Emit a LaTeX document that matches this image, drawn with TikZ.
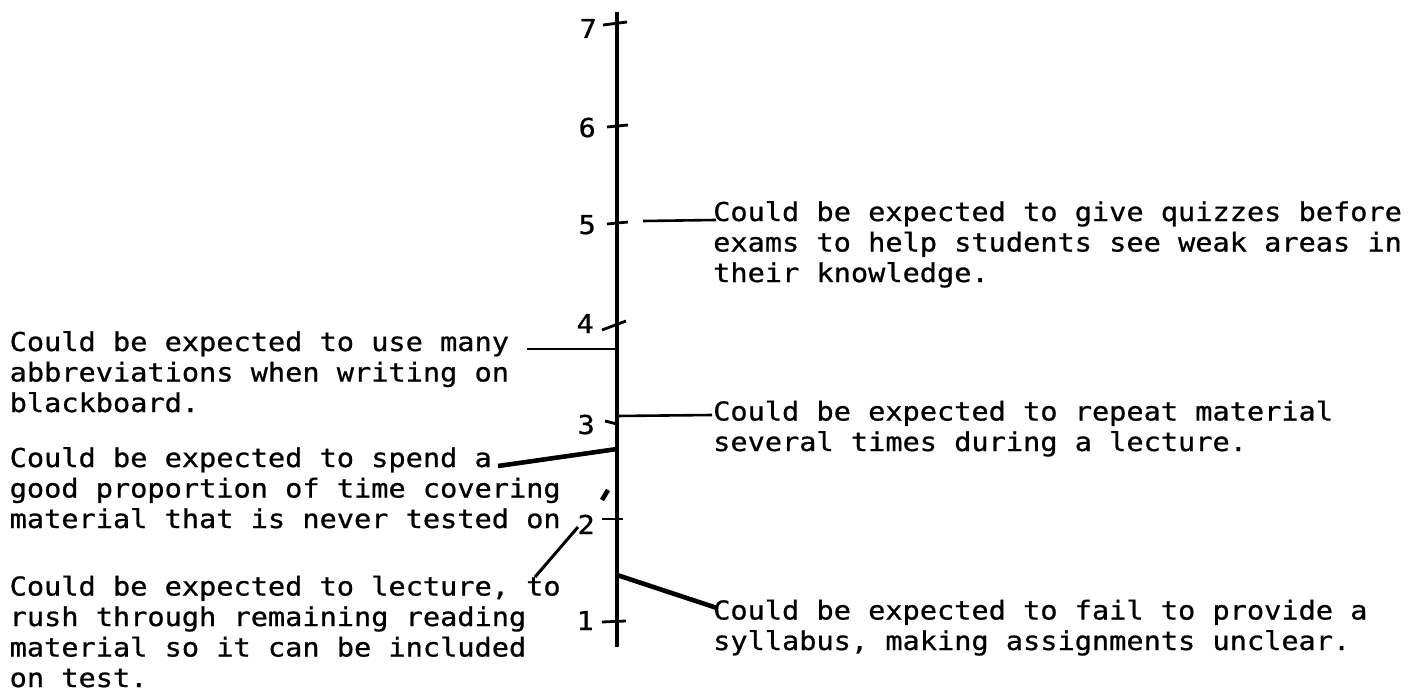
\documentclass[tikz,border=0pt]{standalone}
\usepackage{fontspec}
\newfontfamily\tw[FakeStretch=1.1,FakeBold=0.8]{DejaVu Sans Mono}
\begin{document}
\begin{tikzpicture}[x=1pt,y=-1pt,
  txt/.style={font=\tw\fontsize{26}{30.5}\selectfont, inner sep=0pt, align=left, anchor=base west},
  num/.style={font=\tw\fontsize{26}{30.5}\selectfont, inner sep=0pt, anchor=base east},
  axisline/.style={line width=3.8pt},
  tickmark/.style={line width=2.8pt},
  lead/.style={line width=2.6pt},
  leadthick/.style={line width=4.6pt},
  line cap=butt]
\useasboundingbox (0,0) rectangle (1409,698);

% scale axis
\coordinate (top) at (617,12);
\coordinate (bot) at (617,647);
\draw[axisline] (top) -- (bot);

% tick marks
\coordinate (t7a) at (603,25);  \coordinate (t7b) at (627,22);
\coordinate (t6a) at (607,127); \coordinate (t6b) at (628,125);
\coordinate (t5a) at (607,224); \coordinate (t5b) at (628,222);
\coordinate (t4a) at (602,330); \coordinate (t4b) at (626,321);
\coordinate (t3a) at (605,421); \coordinate (t3b) at (617,424);
\coordinate (t2a) at (602,519); \coordinate (t2b) at (623,519);
\coordinate (t1a) at (602,622); \coordinate (t1b) at (626,621);
\foreach \i in {1,...,7} \draw[tickmark] (t\i a) -- (t\i b);

% scale numbers
\node[num] (n7) at (597,38)  {7};
\node[num] (n6) at (596,137) {6};
\node[num] (n5) at (596,234) {5};
\node[num] (n4) at (594,333) {4};
\node[num] (n3) at (595,434) {3};
\node[num] (n2) at (595,534) {2};
\node[num] (n1) at (594,630) {1};

% statements on the right (anchored at the baseline of their last line)
\node[txt] (quiz) at (713,282) {Could be expected to give quizzes before\\exams to help students see weak areas in\\their knowledge.};
\node[txt] (rep) at (713,451) {Could be expected to repeat material\\several times during a lecture.};
\node[txt] (syl) at (713,650) {Could be expected to fail to provide a\\syllabus, making assignments unclear.};

% statements on the left
\node[txt] (abbr) at (9.5,412) {Could be expected to use many\\abbreviations when writing on\\blackboard.};
\node[txt] (spend) at (9.5,528) {Could be expected to spend a\\good proportion of time covering\\material that is never tested on};
\node[txt] (lect) at (9.5,687) {Could be expected to lecture, to\\rush through remaining reading\\material so it can be included\\on test.};

% leaders from the statements to the axis
\coordinate (qa) at (643,221); \coordinate (qb) at (716,220);
\draw[lead] (qa) -- (qb);
\coordinate (aa) at (527,349); \coordinate (ab) at (617,349);
\draw[lead] (aa) -- (ab);
\coordinate (ra) at (617,416); \coordinate (rb) at (712,415);
\draw[lead] (ra) -- (rb);
\coordinate (sa) at (498,466); \coordinate (sb) at (617,449);
\draw[leadthick] (sa) -- (sb);
\coordinate (ka) at (608,490); \coordinate (kb) at (602,500);
\draw[leadthick] (ka) -- (kb);
\coordinate (la) at (535,577); \coordinate (lb) at (578,527);
\draw[line width=3pt] (la) -- (lb);
\coordinate (ya) at (617,575); \coordinate (yb) at (717,608);
\draw[leadthick] (ya) -- (yb);
\end{tikzpicture}
\end{document}
